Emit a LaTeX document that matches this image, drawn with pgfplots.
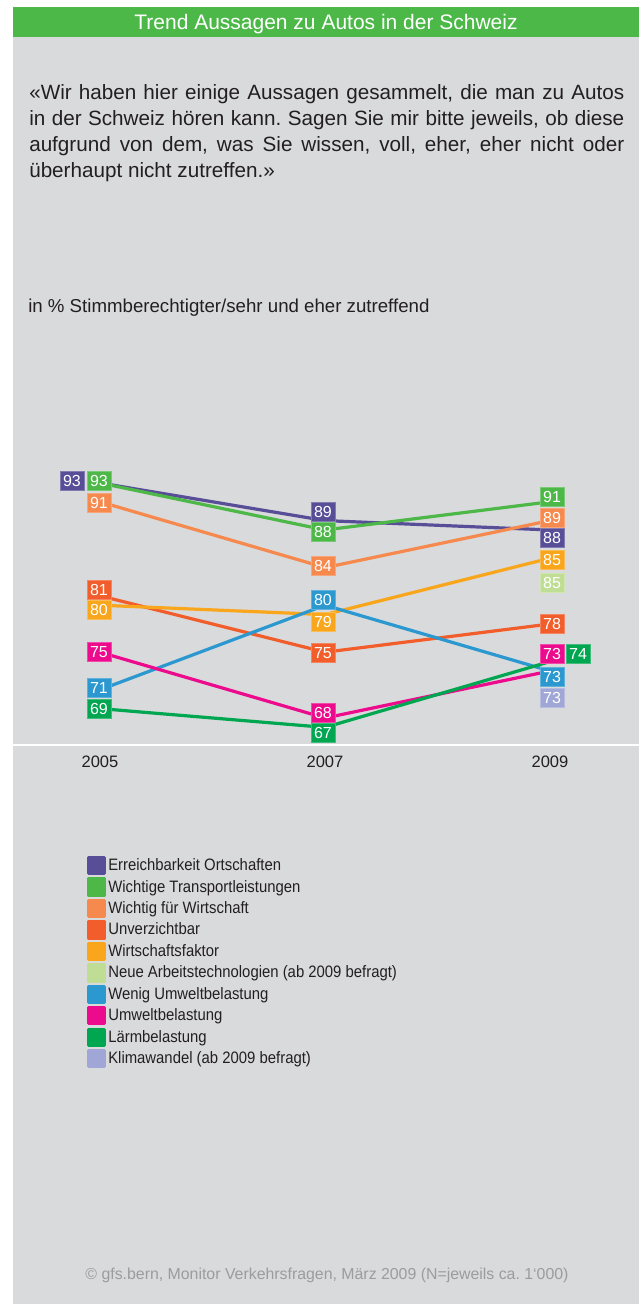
\documentclass[border=0pt]{standalone}
\usepackage{fontspec}
\setmainfont{Liberation Sans}
\newfontfamily\legfont{Liberation Sans}[FakeStretch=0.9]
\usepackage{pgfplots}
\usepackage{pgfplotstable}
\pgfplotsset{compat=1.18}
\definecolor{bgray}{HTML}{D9DADC}
\definecolor{tgreen}{HTML}{4CB848}
\definecolor{txt}{HTML}{231F20}
\definecolor{foot}{HTML}{9C9C9C}
\definecolor{cErr}{HTML}{584E97}
\definecolor{cTrans}{HTML}{4DB848}
\definecolor{cWW}{HTML}{F6894D}
\definecolor{cUnv}{HTML}{F15D2B}
\definecolor{cWF}{HTML}{F9A61C}
\definecolor{cNeu}{HTML}{BFDD95}
\definecolor{cWenig}{HTML}{2B98D0}
\definecolor{cUmw}{HTML}{EC0B8C}
\definecolor{cLaerm}{HTML}{00A650}
\definecolor{cKlima}{HTML}{A0A6D6}

% columns: year, value, label shift dx / dy (px, dy positive = down)
\pgfplotstableread{
x y dx dy
2005 93 -28 -2
2007 89 -2 -9
2009 88 2 8
}\tErr
\pgfplotstableread{
x y dx dy
2005 93 -1 -2
2007 88 -2 2
2009 91 2 -5
}\tTrans
\pgfplotstableread{
x y dx dy
2005 91 -1 1
2007 84 -2 -2
2009 89 2 -3
}\tWW
\pgfplotstableread{
x y dx dy
2005 81 -1 -6
2007 75 -2 1
2009 78 2 0
}\tUnv
\pgfplotstableread{
x y dx dy
2005 80 -1 5
2007 79 -2 7
2009 85 2 2
}\tWF
\pgfplotstableread{
x y dx dy
2009 85 2 25
}\tNeu
\pgfplotstableread{
x y dx dy
2005 71 -1 -2
2007 80 -2 -5
2009 73 2 6
}\tWenig
\pgfplotstableread{
x y dx dy
2005 75 -1 0
2007 68 -2 -5
2009 73 2 -17
}\tUmw
\pgfplotstableread{
x y dx dy
2005 69 -1 0
2007 67 -2 6
2009 74 28 -8
}\tLaerm
\pgfplotstableread{
x y dx dy
2009 73 2 27
}\tKlima

\tikzset{
  lbl/.style={text=white, font=\fontsize{12}{12}\selectfont, inner sep=0pt,
    minimum width=18pt, minimum height=14.25pt, anchor=center, line width=0.6pt},
}
\pgfplotsset{
  ln/.style={#1, line width=2.4pt, line join=round},
  labels/.style={draw=none, mark=none, forget plot, point meta=explicit symbolic,
    visualization depends on={\thisrow{dx}\as\dx},
    visualization depends on={\thisrow{dy}\as\dy},
    nodes near coords,
    nodes near coords style={lbl, fill=#1, draw=#1!75!white,
      xshift={0.75*(\dx)}, yshift={-0.75*(\dy)}}},
}

\begin{document}
\frenchspacing
\begin{tikzpicture}
\path[use as bounding box] (0,0) rectangle (479.25pt,978.75pt);
\begin{scope}[x=0.75pt,y=0.75pt]
\fill[white] (0,0) rectangle (639,1305);
\fill[bgray] (13,1) rectangle (639,1268);
\fill[tgreen] (13,1268) rectangle (639,1298);
\node[anchor=base, text=white, font=\fontsize{15.75}{18}\selectfont, inner sep=0pt]
  at (326,1275.7) {Trend Aussagen zu Autos in der Schweiz};
\node[anchor=base west, inner sep=0pt, text=txt] at (29,1205.7)
  {\parbox[t]{446.25pt}{\fontsize{15.5}{19.5}\selectfont\frenchspacing\tolerance=10000\hyphenpenalty=10000
  «Wir haben hier einige Aussagen gesammelt, die man zu Autos\linebreak
  in der Schweiz hören kann. Sagen Sie mir bitte jeweils, ob diese\linebreak
  aufgrund von dem, was Sie wissen, voll, eher, eher nicht oder\linebreak
  überhaupt nicht zutreffen.»}};
\node[anchor=base west, inner sep=0pt, text=txt, font=\fontsize{14}{16}\selectfont]
  at (28,992.7) {in \% Stimmberechtigter/sehr und eher zutreffend};
\node[anchor=base, inner sep=0pt, text=foot, font=\fontsize{11.9}{14}\selectfont]
  at (327,26) {© gfs.bern, Monitor Verkehrsfragen, März 2009 (N=jeweils ca. 1‘000)};
\end{scope}
\begin{axis}[
  at={(9.75pt,419.775pt)}, anchor=south west,
  scale only axis, width=469.5pt, height=228.98pt,
  xmin=2004.2267, xmax=2009.7911, ymin=65.096, ymax=97.574,
  clip=false,
  axis x line*=bottom, axis y line=none,
  axis line style={white, line width=1.5pt},
  xtick={2005,2007,2009}, xticklabels={2005,2007,2009},
  major tick length=0pt,
  xticklabel style={anchor=base, yshift=-16.5pt, text=txt, font=\fontsize{12.4}{14}\selectfont},
  ytick=\empty,
  legend style={at={(0.1177,-0.3616)}, anchor=north west, draw=none, fill=none,
    inner sep=0pt, row sep=1.7pt, font=\legfont\fontsize{12.4}{14}\selectfont, text=txt,
    nodes={inner sep=0pt},
    /tikz/every odd column/.style={column sep=1.6pt}},
  legend cell align=left,
  legend image code/.code={\fill[#1] (0pt,-6pt) rectangle (12pt,6pt);},
]
\addplot[ln=cErr] table[x=x,y=y] {\tErr};
\addlegendentry{Erreichbarkeit Ortschaften}
\addplot[ln=cTrans] table[x=x,y=y] {\tTrans};
\addlegendentry{Wichtige Transportleistungen}
\addplot[ln=cWW] table[x=x,y=y] {\tWW};
\addlegendentry{Wichtig für Wirtschaft}
\addplot[ln=cUnv] table[x=x,y=y] {\tUnv};
\addlegendentry{Unverzichtbar}
\addplot[ln=cWF] table[x=x,y=y] {\tWF};
\addlegendentry{Wirtschaftsfaktor}
\addplot[ln=cNeu] table[x=x,y=y] {\tNeu};
\addlegendentry{Neue Arbeitstechnologien (ab 2009 befragt)}
\addplot[ln=cWenig] table[x=x,y=y] {\tWenig};
\addlegendentry{Wenig Umweltbelastung}
\addplot[ln=cUmw] table[x=x,y=y] {\tUmw};
\addlegendentry{Umweltbelastung}
\addplot[ln=cLaerm] table[x=x,y=y] {\tLaerm};
\addlegendentry{Lärmbelastung}
\addplot[ln=cKlima] table[x=x,y=y] {\tKlima};
\addlegendentry{Klimawandel (ab 2009 befragt)}

\addplot[labels=cErr] table[x=x,y=y,meta=y] {\tErr};
\addplot[labels=cTrans] table[x=x,y=y,meta=y] {\tTrans};
\addplot[labels=cWW] table[x=x,y=y,meta=y] {\tWW};
\addplot[labels=cUnv] table[x=x,y=y,meta=y] {\tUnv};
\addplot[labels=cWF] table[x=x,y=y,meta=y] {\tWF};
\addplot[labels=cNeu] table[x=x,y=y,meta=y] {\tNeu};
\addplot[labels=cWenig] table[x=x,y=y,meta=y] {\tWenig};
\addplot[labels=cUmw] table[x=x,y=y,meta=y] {\tUmw};
\addplot[labels=cLaerm] table[x=x,y=y,meta=y] {\tLaerm};
\addplot[labels=cKlima] table[x=x,y=y,meta=y] {\tKlima};
\end{axis}
\end{tikzpicture}
\end{document}
